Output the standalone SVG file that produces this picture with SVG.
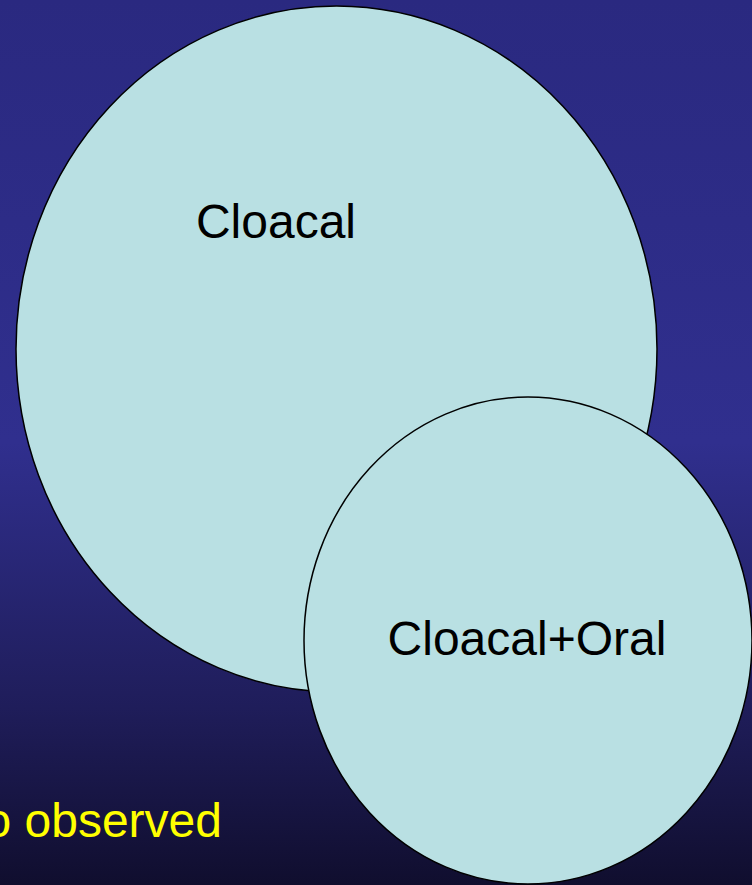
<svg xmlns="http://www.w3.org/2000/svg" width="752" height="885" viewBox="0 0 752 885">
<defs>
<linearGradient id="bg" x1="0" y1="0" x2="0" y2="1">
<stop offset="0" stop-color="#2a2980"/>
<stop offset="0.5" stop-color="#302f8e"/>
<stop offset="0.8" stop-color="#1f1d5a"/>
<stop offset="1" stop-color="#100e2e"/>
</linearGradient>
</defs>
<style>
.set{fill:#b9e0e3;stroke:#000;stroke-width:1.5}
.lbl{font-family:"Liberation Sans",Arial,sans-serif;font-size:48px;fill:#000;text-anchor:middle}
.note{font-family:"Liberation Sans",Arial,sans-serif;font-size:48px;fill:#ffff00}
</style>
<rect width="752" height="885" fill="url(#bg)"/>
<text class="note" x="222" y="837" text-anchor="end">o observed</text>
<g id="cloacal">
<ellipse class="set" cx="336.5" cy="349" rx="320.5" ry="343"/>
<text class="lbl" x="276" y="238">Cloacal</text>
</g>
<g id="cloacal-oral">
<ellipse class="set" cx="528" cy="640.5" rx="224" ry="243.5"/>
<text class="lbl" x="527" y="655">Cloacal+Oral</text>
</g>
<g id="connectors"/>
</svg>
